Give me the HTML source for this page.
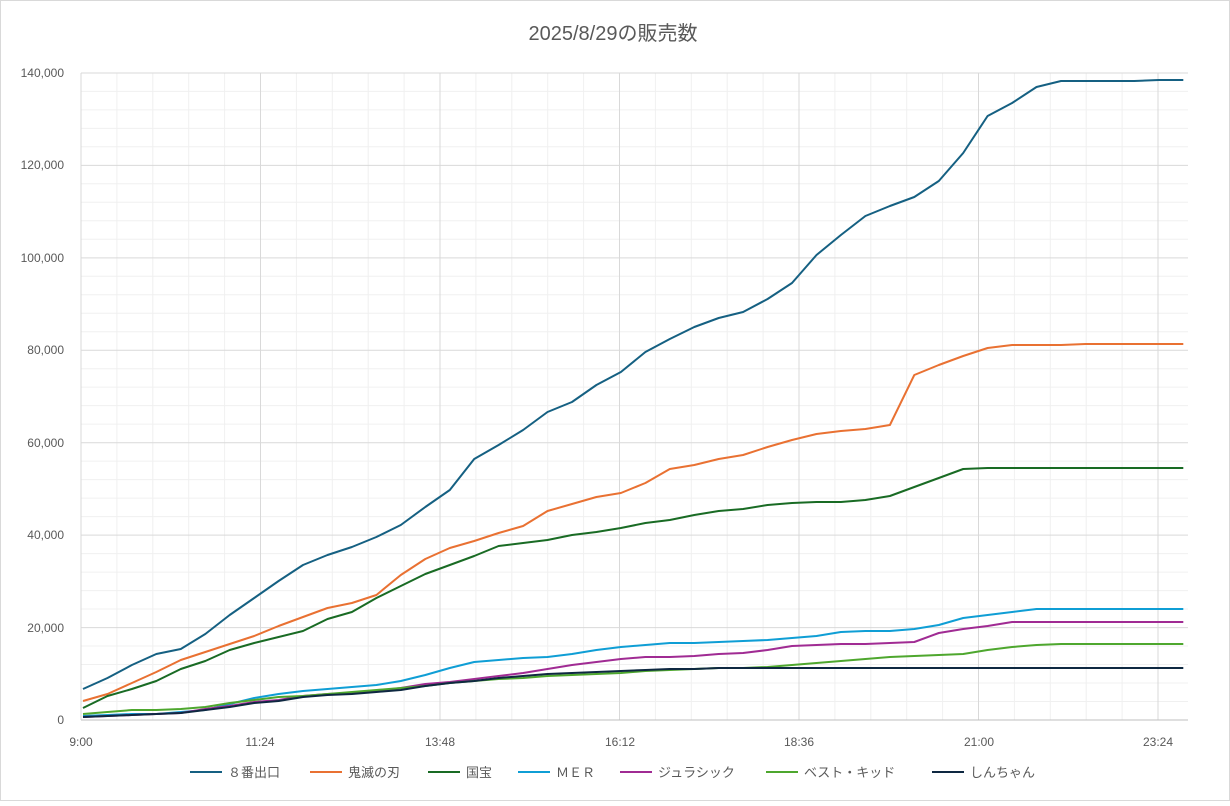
<!DOCTYPE html>
<html><head><meta charset="utf-8"><style>
body{margin:0;background:#fff}
svg text{font-family:"Liberation Sans","Noto Sans CJK JP",sans-serif;fill:#595959}
</style></head><body>
<svg width="1230" height="801" xmlns="http://www.w3.org/2000/svg">
<rect x="0.5" y="0.5" width="1229" height="800" fill="#fff" stroke="#d9d9d9"/>
<text x="613" y="40" font-size="20" text-anchor="middle">2025/8/29の販売数</text>
<g stroke="#f0f0f0" stroke-width="1" id="minor"></g>
<g stroke="#d9d9d9" stroke-width="1">
<line x1="81" y1="73" x2="1188" y2="73"/><line x1="81" y1="165.4" x2="1188" y2="165.4"/>
<line x1="81" y1="257.9" x2="1188" y2="257.9"/><line x1="81" y1="350.3" x2="1188" y2="350.3"/>
<line x1="81" y1="442.7" x2="1188" y2="442.7"/><line x1="81" y1="535.1" x2="1188" y2="535.1"/>
<line x1="81" y1="627.6" x2="1188" y2="627.6"/>
<line x1="81" y1="73" x2="81" y2="720"/><line x1="260.5" y1="73" x2="260.5" y2="720"/>
<line x1="440" y1="73" x2="440" y2="720"/><line x1="619.5" y1="73" x2="619.5" y2="720"/>
<line x1="799" y1="73" x2="799" y2="720"/><line x1="978.5" y1="73" x2="978.5" y2="720"/>
<line x1="1158" y1="73" x2="1158" y2="720"/>
</g>
<line x1="81" y1="720" x2="1188" y2="720" stroke="#bfbfbf"/>
<g font-size="12" text-anchor="end">
<text x="64" y="77">140,000</text><text x="64" y="169">120,000</text><text x="64" y="262">100,000</text>
<text x="64" y="354">80,000</text><text x="64" y="447">60,000</text><text x="64" y="539">40,000</text>
<text x="64" y="632">20,000</text><text x="64" y="724">0</text>
</g>
<g font-size="12" text-anchor="middle">
<text x="81" y="746">9:00</text><text x="260" y="746">11:24</text><text x="440" y="746">13:48</text>
<text x="620" y="746">16:12</text><text x="799" y="746">18:36</text><text x="979" y="746">21:00</text><text x="1158" y="746">23:24</text>
</g>
<g fill="none" stroke-width="2" stroke-linejoin="round" id="lines"></g>
<g font-size="13">
<line x1="190" y1="772" x2="222" y2="772" stroke="#156082" stroke-width="2"/><text x="228" y="777">８番出口</text>
<line x1="310" y1="772" x2="342" y2="772" stroke="#e97132" stroke-width="2"/><text x="348" y="777">鬼滅の刃</text>
<line x1="428" y1="772" x2="460" y2="772" stroke="#196b24" stroke-width="2"/><text x="466" y="777">国宝</text>
<line x1="518" y1="772" x2="550" y2="772" stroke="#0f9ed5" stroke-width="2"/><text x="556" y="777">ＭＥＲ</text>
<line x1="620" y1="772" x2="652" y2="772" stroke="#a02b93" stroke-width="2"/><text x="658" y="777">ジュラシック</text>
<line x1="766" y1="772" x2="798" y2="772" stroke="#4ea72e" stroke-width="2"/><text x="804" y="777">ベスト・キッド</text>
<line x1="932" y1="772" x2="964" y2="772" stroke="#0e2841" stroke-width="2"/><text x="970" y="777">しんちゃん</text>
</g>
</svg>
<script>
var ns="http://www.w3.org/2000/svg";
var mg=document.getElementById("minor");
for(var i=0;i<35;i++){var y=720-i*18.49;if(i%5==0)continue;var l=document.createElementNS(ns,"line");l.setAttribute("x1",81);l.setAttribute("x2",1188);l.setAttribute("y1",y);l.setAttribute("y2",y);mg.appendChild(l);}
for(var i=0;i<31;i++){var x=81+i*35.9;if(i%5==0||x>1188)continue;var l=document.createElementNS(ns,"line");l.setAttribute("x1",x);l.setAttribute("x2",x);l.setAttribute("y1",73);l.setAttribute("y2",720);mg.appendChild(l);}
var D={
"#156082":[689,678,665,654,649,634,615,598,581,565,555,547,537,525,507,490,459,445,430,412,402,385,372,352,339,327,318,312,299,283,255,235,216,206,197,181,153,116,103,87,81,81,81,81,80,80],
"#e97132":[701,694,683,672,660,652,644,636,626,617,608,603,595,575,559,548,541,533,526,511,504,497,493,483,469,465,459,455,447,440,434,431,429,425,375,365,356,348,345,345,345,344,344,344,344,344],
"#196b24":[708,696,689,681,669,661,650,643,637,631,619,612,598,586,574,565,556,546,543,540,535,532,528,523,520,515,511,509,505,503,502,502,500,496,487,478,469,468,468,468,468,468,468,468,468,468],
"#0f9ed5":[716,715,714,714,712,710,704,698,694,691,689,687,685,681,675,668,662,660,658,657,654,650,647,645,643,643,642,641,640,638,636,632,631,631,629,625,618,615,612,609,609,609,609,609,609,609],
"#a02b93":[717,716,715,714,713,709,706,702,700,696,694,693,691,688,684,682,679,676,673,669,665,662,659,657,657,656,654,653,650,646,645,644,644,643,642,633,629,626,622,622,622,622,622,622,622,622],
"#4ea72e":[714,712,710,710,709,707,703,700,697,696,694,692,690,688,686,683,681,679,678,676,675,674,673,671,670,669,668,668,667,665,663,661,659,657,656,655,654,650,647,645,644,644,644,644,644,644],
"#0e2841":[717,716,715,714,713,710,707,703,701,697,695,694,692,690,686,683,681,678,676,674,673,672,671,670,669,669,668,668,668,668,668,668,668,668,668,668,668,668,668,668,668,668,668,668,668,668]};
var g=document.getElementById("lines");
for(var c in D){var p=D[c].map(function(y,i){return (83+i*24.45).toFixed(1)+","+y}).join(" ");var pl=document.createElementNS(ns,"polyline");pl.setAttribute("points",p);pl.setAttribute("stroke",c);g.appendChild(pl);}
</script>
</body></html>
